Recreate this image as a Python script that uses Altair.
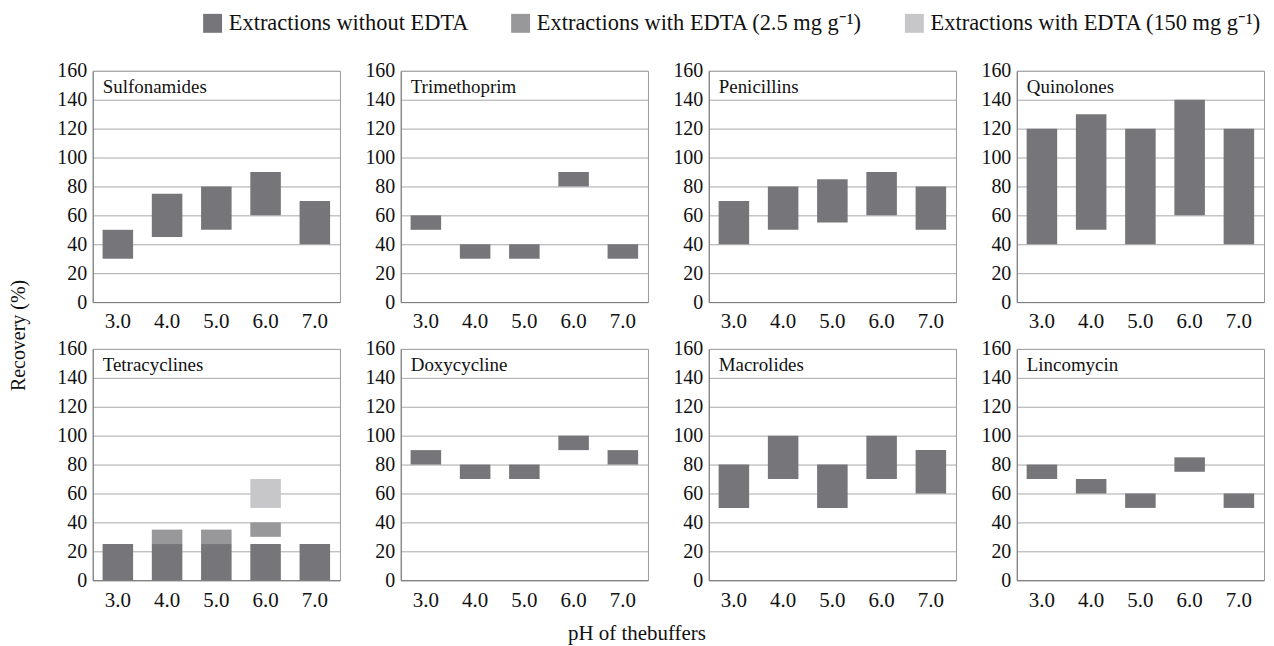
import altair as alt
import pandas as pd

ph = ["3.0", "4.0", "5.0", "6.0", "7.0"]
panels = ["Sulfonamides", "Trimethoprim", "Penicillins", "Quinolones",
          "Tetracyclines", "Doxycycline", "Macrolides", "Lincomycin"]
series = ["Extractions without EDTA",
          "Extractions with EDTA (2.5 mg g⁻¹)",
          "Extractions with EDTA (150 mg g⁻¹)"]
colors = ["#76767a", "#98989b", "#c7c7c9"]

# "without EDTA" recovery ranges (low, high) per panel, by pH
low = {
    "Sulfonamides": [30, 45, 50, 60, 40],
    "Trimethoprim": [50, 30, 30, 80, 30],
    "Penicillins": [40, 50, 55, 60, 50],
    "Quinolones": [40, 50, 40, 60, 40],
    "Tetracyclines": [0, 0, 0, 0, 0],
    "Doxycycline": [80, 70, 70, 90, 80],
    "Macrolides": [50, 70, 50, 70, 60],
    "Lincomycin": [70, 60, 50, 75, 50],
}
high = {
    "Sulfonamides": [50, 75, 80, 90, 70],
    "Trimethoprim": [60, 40, 40, 90, 40],
    "Penicillins": [70, 80, 85, 90, 80],
    "Quinolones": [120, 130, 120, 140, 120],
    "Tetracyclines": [25, 25, 25, 25, 25],
    "Doxycycline": [90, 80, 80, 100, 90],
    "Macrolides": [80, 100, 80, 100, 90],
    "Lincomycin": [80, 70, 60, 85, 60],
}
# Tetracyclines with EDTA
edta25_ph = ["4.0", "5.0", "6.0"]
edta25_low = [25, 25, 30]
edta25_high = [35, 35, 40]
edta150_ph = ["6.0"]
edta150_low = [50]
edta150_high = [70]

rows = []
for p in panels:
    for i, x in enumerate(ph):
        rows.append(dict(panel=p, ph=x, series=series[0], lo=low[p][i], hi=high[p][i]))
for i, x in enumerate(edta25_ph):
    rows.append(dict(panel="Tetracyclines", ph=x, series=series[1], lo=edta25_low[i], hi=edta25_high[i]))
for i, x in enumerate(edta150_ph):
    rows.append(dict(panel="Tetracyclines", ph=x, series=series[2], lo=edta150_low[i], hi=edta150_high[i]))
df = pd.DataFrame(rows)

FONT = "Liberation Serif"
W, H = 248, 232

color = alt.Color(
    "series:N",
    scale=alt.Scale(domain=series, range=colors),
    legend=alt.Legend(
        orient="none", legendX=109, legendY=-59, direction="horizontal",
        title=None, labelFont=FONT, labelFontSize=22.5, labelColor="#111",
        symbolType="square", symbolSize=361, symbolStrokeWidth=0,
        symbolOpacity=1, columnPadding=40, labelLimit=0, labelOffset=5,
    ),
)


def panel(name):
    d = df[df.panel == name]
    bars = alt.Chart(d).mark_bar(opacity=1).encode(
        x=alt.X("ph:N", sort=ph,
                scale=alt.Scale(domain=ph, paddingInner=0.38, paddingOuter=0.2),
                axis=alt.Axis(title=None, labelAngle=0, ticks=False, labelFont=FONT,
                              labelFontSize=21, labelColor="#111", labelPadding=9,
                              domainColor="#7a7a7a", grid=False)),
        y=alt.Y("lo:Q", scale=alt.Scale(domain=[0, 160], nice=False),
                axis=alt.Axis(title=None, values=list(range(0, 161, 20)), ticks=False,
                              labelFont=FONT, labelFontSize=20, labelColor="#111",
                              labelPadding=6, domainColor="#7a7a7a",
                              gridColor="#a8a8a8", gridWidth=1)),
        y2="hi:Q",
        color=color,
    )
    label = alt.Chart(pd.DataFrame({"t": [name]})).mark_text(
        align="left", baseline="middle", font=FONT, fontSize=19, color="#111"
    ).encode(x=alt.value(10), y=alt.value(16), text="t:N")
    return alt.layer(bars, label).properties(width=W, height=H)


row1 = alt.hconcat(*[panel(p) for p in panels[:4]], spacing=23)
row2 = alt.hconcat(*[panel(p) for p in panels[4:]], spacing=23)
grid = alt.vconcat(row1, row2, spacing=5).properties(
    title=alt.TitleParams("Recovery (%)", orient="left", anchor="middle", font=FONT,
                          fontSize=20, fontWeight="normal", color="#111", offset=27)
)
chart = alt.hconcat(grid).properties(
    title=alt.TitleParams("pH of thebuffers", orient="bottom", anchor="middle", font=FONT,
                          fontSize=21, fontWeight="normal", color="#111", offset=12),
    padding={"left": 1, "top": 3, "right": 1, "bottom": 0},
).configure_view(stroke="#9a9a9a", strokeWidth=1)

chart.save("out.html", embed_options={"renderer": "svg", "actions": False})
